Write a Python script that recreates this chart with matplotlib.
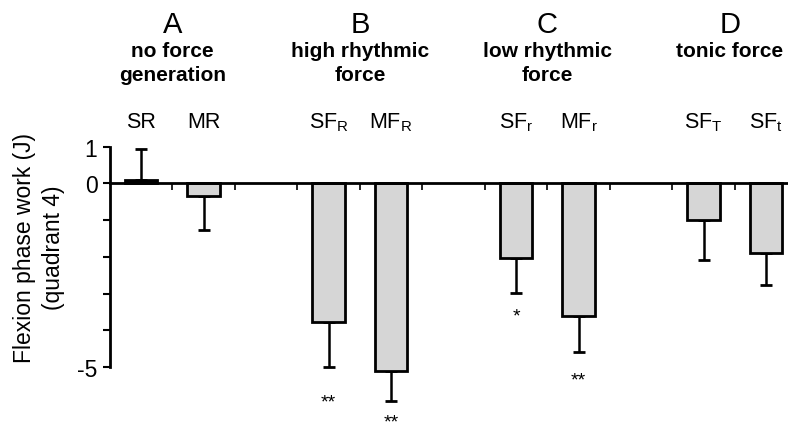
import numpy as np
import matplotlib.pyplot as plt

plt.rcParams['font.family'] = ['Liberation Sans', 'DejaVu Sans']
plt.rcParams['mathtext.default'] = 'regular'

# conditions, slot position on the x axis, mean work and SD
labels = ['SR', 'MR', r'SF$_{R}$', r'MF$_{R}$', r'SF$_{r}$', r'MF$_{r}$', r'SF$_{T}$', r'SF$_{t}$']
slots = [0, 1, 3, 4, 6, 7, 9, 10]
work = [0.1, -0.33, -3.78, -5.11, -2.03, -3.62, -0.99, -1.89]
sd = [0.85, 0.95, 1.22, 0.82, 0.95, 0.96, 1.09, 0.87]
stars = ['', '', '**', '**', '*', '**', '', '']
star_y = [0, 0, -5.95, -6.5, -3.6, -5.35, 0, 0]

groups = ['A', 'B', 'C', 'D']
group_names = ['no force\ngeneration', 'high rhythmic\nforce', 'low rhythmic\nforce', 'tonic force']
group_x = [0.5, 3.5, 6.5, 9.42]

fig = plt.figure(figsize=(7.88, 4.35), dpi=100)
ax = fig.add_axes([110/788, 0.0444, 1 - 110/788, 0.6327])
ax.set_xlim(-0.5, 10.35)
ax.set_ylim(-6.3, 1.2)

colors = ['black' if w > 0 else '#d6d6d6' for w in work]
ax.bar(slots, work, width=0.52, color=colors, edgecolor='black', linewidth=2, zorder=3)

# one-sided error bars, pointing away from zero
lower = [0 if w > 0 else s for w, s in zip(work, sd)]
upper = [s if w > 0 else 0 for w, s in zip(work, sd)]
ax.errorbar(slots, work, yerr=[lower, upper], fmt='none', ecolor='black',
            elinewidth=1.8, capsize=4.5, capthick=2, zorder=2)

for x, s, y in zip(slots, stars, star_y):
    if s:
        ax.text(x, y, s, ha='center', va='center', fontsize=14, clip_on=False)

ax.spines['top'].set_visible(False)
ax.spines['right'].set_visible(False)
ax.spines['bottom'].set_position(('data', 0))
ax.spines['bottom'].set_linewidth(2)
ax.spines['left'].set_linewidth(2)
ax.spines['left'].set_bounds(-5, 1)
ax.spines['bottom'].set_zorder(4)

ax.set_yticks([1, 0, -5])
ax.set_yticklabels(['1', '0', '-5'], fontsize=16.5)
ax.set_yticks([-1, -2, -3, -4], minor=True)
ax.tick_params(axis='y', which='both', direction='out', length=5, width=1.5, pad=4)
ax.set_xticks(np.arange(0.5, 10, 1))
ax.set_xticklabels([])
ax.tick_params(axis='x', direction='out', length=5, width=1.2)

fig.text(39/788, 1 - 248/435, 'Flexion phase work (J)\n(quadrant 4)', rotation=90,
         ha='center', va='center', fontsize=16.5, linespacing=1.3)

# condition labels above the plot
for x, lab in zip(slots, labels):
    xf = ax.transData.transform((x, 0))[0] / 788
    fig.text(xf, 1 - 123/435, lab, ha='center', va='center', fontsize=15.5)

for x, g, name in zip(group_x, groups, group_names):
    xf = ax.transData.transform((x, 0))[0] / 788
    fig.text(xf, 1 - 25/435, g, ha='center', va='center', fontsize=21)
    fig.text(xf, 1 - 42/435, name, ha='center', va='top', fontsize=15,
             fontweight='bold', linespacing=1.35)

fig.savefig('out.png', dpi=100)
